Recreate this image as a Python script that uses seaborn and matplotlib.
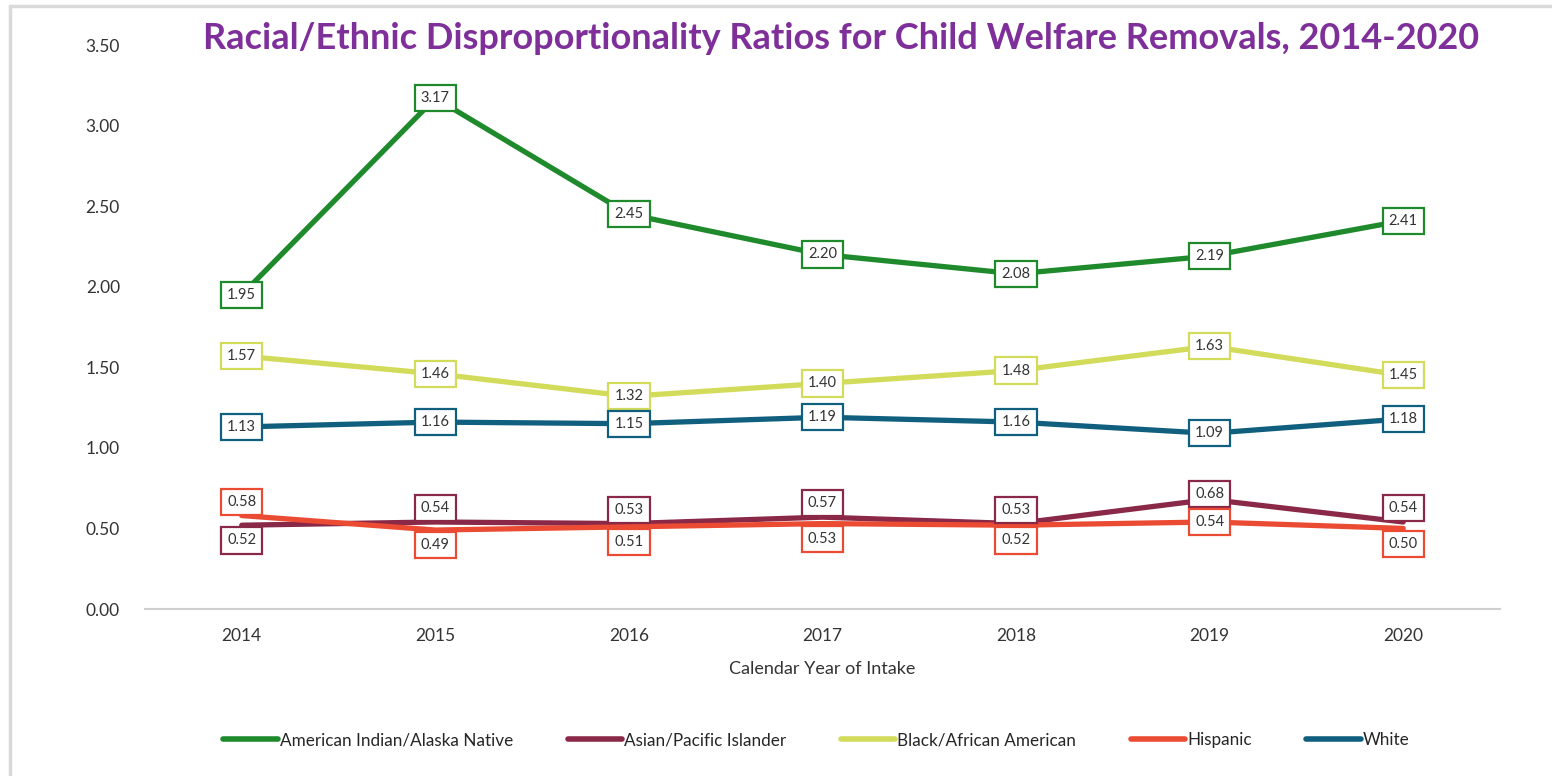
import pandas as pd
import matplotlib.pyplot as plt
import seaborn as sns
from matplotlib.lines import Line2D

years = [2014, 2015, 2016, 2017, 2018, 2019, 2020]
groups = ["American Indian/Alaska Native", "Asian/Pacific Islander",
          "Black/African American", "Hispanic", "White"]
aian = [1.95, 3.17, 2.45, 2.20, 2.08, 2.19, 2.41]
api = [0.52, 0.54, 0.53, 0.57, 0.53, 0.68, 0.54]
black = [1.57, 1.46, 1.32, 1.40, 1.48, 1.63, 1.45]
hisp = [0.58, 0.49, 0.51, 0.53, 0.52, 0.54, 0.50]
white = [1.13, 1.16, 1.15, 1.19, 1.16, 1.09, 1.18]
colors = ["#1e8a2c", "#8a2848", "#d3db5b", "#ea4b32", "#115f7e"]

series = dict(zip(groups, [aian, api, black, hisp, white]))
rows = []
for g, vals in series.items():
    for y, v in zip(years, vals):
        rows.append({"year": y, "group": g, "ratio": v})
df = pd.DataFrame(rows)

sns.set_style("white")
plt.rcParams["font.family"] = ["Lato", "DejaVu Sans"]

fig = plt.figure(figsize=(15.52, 7.76), dpi=100)
ax = fig.add_axes([0.0934, 0.2152, 0.8731, 0.7268])

sns.lineplot(data=df, x="year", y="ratio", hue="group", hue_order=groups,
             palette=colors, linewidth=3.8, ax=ax, legend=False)

ax.set_ylim(0, 3.5)
ax.set_xlim(2013.5, 2020.5)
ax.set_yticks([0, 0.5, 1.0, 1.5, 2.0, 2.5, 3.0, 3.5])
ax.set_yticklabels([f"{t:.2f}" for t in ax.get_yticks()])
ax.set_xticks(years)
ax.tick_params(axis="both", length=0, labelsize=12.5, colors="#333333")
ax.tick_params(axis="y", pad=18)
ax.tick_params(axis="x", pad=14)
for s in ["top", "right", "left"]:
    ax.spines[s].set_visible(False)
ax.spines["bottom"].set_color("#d0d0d0")
ax.spines["bottom"].set_linewidth(1.5)
ax.set_xlabel("Calendar Year of Intake", fontsize=13, color="#333333", labelpad=12)
ax.set_ylabel("")

# data labels; the overlapping Asian/Hispanic pair gets nudged apart
for i, (g, vals) in enumerate(series.items()):
    for j, (y, v) in enumerate(zip(years, vals)):
        dy = 0
        if g in ("Asian/Pacific Islander", "Hispanic"):
            other = hisp[j] if g == "Asian/Pacific Islander" else api[j]
            if abs(v - other) < 0.12:
                dy = 10 if v > other else -11
            elif v > other:
                dy = 4
        ax.annotate(f"{v:.2f}", (y, v), xytext=(0, dy), textcoords="offset points",
                    ha="center", va="center", fontsize=10.5, color="#333333", zorder=5,
                    bbox=dict(boxstyle="square,pad=0.42", fc="white",
                              ec=colors[i], lw=1.6))

fig.text(0.542, 0.951, "Racial/Ethnic Disproportionality Ratios for Child Welfare Removals, 2014-2020",
         ha="center", va="center", fontsize=26, fontweight="bold", color="#7e2f99")

handles = [Line2D([0], [0], color=c, lw=4) for c in colors]
fig.legend(handles, groups, loc="center", bbox_to_anchor=(0.526, 0.046), ncol=5,
           frameon=False, fontsize=12.3, handlelength=3.2, handletextpad=0.1,
           columnspacing=3.2)

# chart frame, top and left edges
fig.add_artist(Line2D([0.0065, 0.0065], [0, 0.992], color="#d9d9d9", lw=2.5,
                      transform=fig.transFigure))
fig.add_artist(Line2D([0.0065, 1.0], [0.992, 0.992], color="#d9d9d9", lw=2.5,
                      transform=fig.transFigure))

fig.savefig("out.png", dpi=100)
